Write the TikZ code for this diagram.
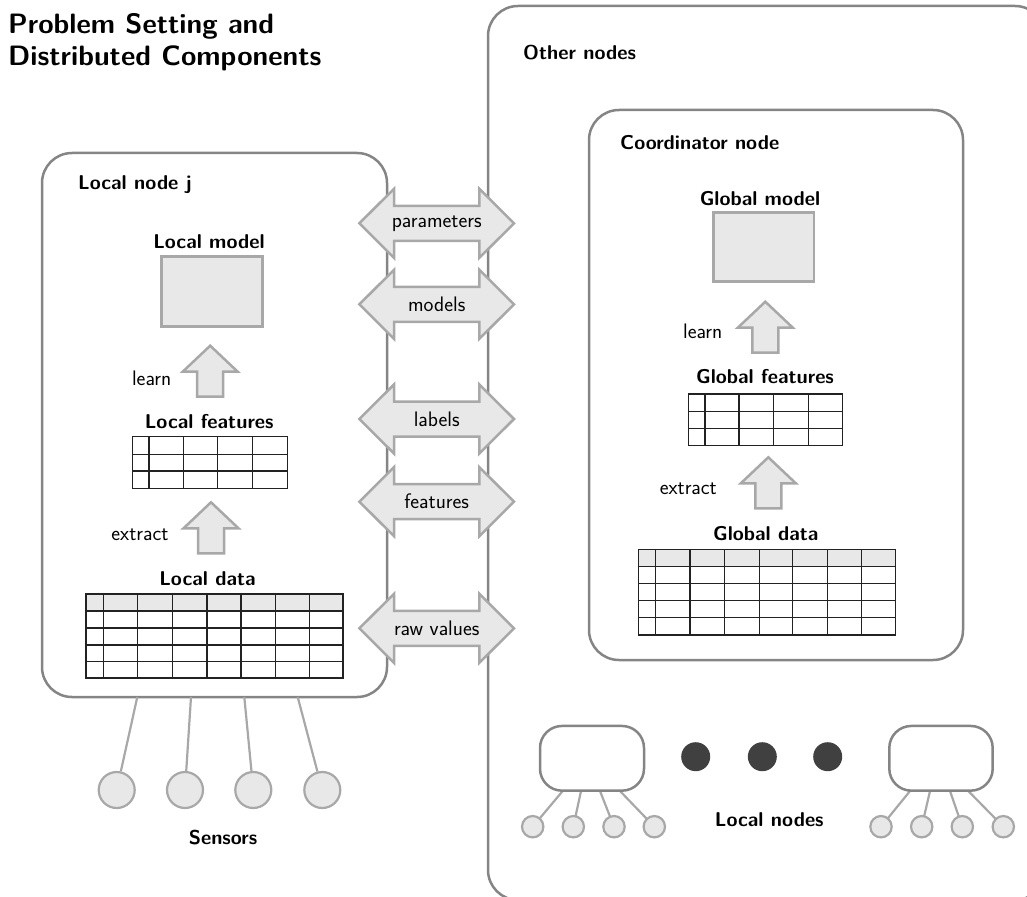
\documentclass[tikz,border=0pt]{standalone}
\usepackage{fontspec}
\usetikzlibrary{calc}
\definecolor{boxgray}{HTML}{858585}
\definecolor{lightfill}{HTML}{E8E8E8}
\definecolor{lightline}{HTML}{A8A8A8}
\definecolor{dotcol}{HTML}{404040}
\definecolor{gridline}{HTML}{222222}
\tikzset{
  region/.style={draw=boxgray, line width=2.5pt, rounded corners=30pt},
  smallregion/.style={draw=boxgray, line width=2.5pt, rounded corners=20pt},
  lbl/.style={font=\sffamily\bfseries\fontsize{20}{24}\selectfont, inner sep=0pt},
  txt/.style={font=\sffamily\fontsize{21}{24}\selectfont, inner sep=0pt},
  modelbox/.style={draw=lightline, fill=lightfill, line width=2.5pt},
  blockarrow/.style={draw=lightline, fill=lightfill, line width=2.5pt, line join=miter},
  gridl/.style={draw=gridline, line width=1.2pt},
  sensor/.style={circle, draw=lightline, fill=lightfill, line width=2.2pt, inner sep=0pt},
  wire/.style={draw=lightline, line width=2.2pt},
  dot/.style={circle, fill=dotcol, inner sep=0pt, minimum size=29pt},
  uparrow/.pic={
    \path[blockarrow] (-13,0) -- (-13,-25) -- (-27.5,-25) -- (0,-51) -- (27.5,-25) -- (13,-25) -- (13,0) -- cycle;
  },
  dblarrow/.pic={
    \path[blockarrow] (-77.3,0) -- (-42.7,-34.5) -- (-42.7,-17.5) -- (42.7,-17.5) -- (42.7,-34.5) -- (77.3,0)
      -- (42.7,34.5) -- (42.7,17.5) -- (-42.7,17.5) -- (-42.7,34.5) -- cycle;
    \node[txt] (-t) at (0,0) {#1};
  }
}
\begin{document}
\begin{tikzpicture}[x=1pt,y=-1pt]
\useasboundingbox (0,0) rectangle (1027,896);
\clip (0,0) rectangle (1027,896);

% title
\node[lbl, anchor=north west, align=left, font=\sffamily\bfseries\fontsize{28}{32}\selectfont] (title) at (8,13)
  {Problem Setting and\\Distributed Components};

% big regions
\path[region] (488,6) rectangle (1045,900);
\node[lbl, anchor=west] (other) at (523,52.5) {Other nodes};
\path[region] (42,153) rectangle (387,697);
\node[lbl, anchor=west] (localj) at (78,185) {Local node j};
\path[region] (589,110) rectangle (963,660);
\node[lbl, anchor=west] (coord) at (620,143) {Coordinator node};

% ---------- local node ----------
\node[lbl] (lmodeltxt) at (209,242) {Local model};
\node[modelbox, minimum width=100.6pt, minimum height=70pt] (lmodel) at (212,291.7) {};
\pic at (210.2,396.7) {uparrow};
\node[txt] (llearn) at (151.7,378) {learn};
\node[lbl] (lfeattxt) at (209.2,421.7) {Local features};
\node[gridl, minimum width=155pt, minimum height=51.6pt, inner sep=0pt] (lfeat) at (209.8,462.5) {};
\foreach \x in {149,183.3,217.7,252.7} \draw[gridl] (\x,436.7) -- (\x,488.3);
\foreach \y in {454.3,471} \draw[gridl] (132.3,\y) -- (287.3,\y);
\pic at (211,553.3) {uparrow};
\node[txt] (lextract) at (140,535) {extract};
\node[lbl] (ldatatxt) at (207.5,578.3) {Local data};
\fill[lightfill] (86,594) rectangle (343,611);
\node[gridl, minimum width=257pt, minimum height=84pt, inner sep=0pt] (ldata) at (214.5,636) {};
\foreach \x in {103.3,137.7,172.3,207,241,275.7,309.3} \draw[gridl] (\x,594) -- (\x,678);
\foreach \y in {611,628,645,661.7} \draw[gridl] (86,\y) -- (343,\y);

% sensors
\foreach \i/\sx/\cx in {1/137.3/116.7, 2/191/185, 3/244.3/253.3, 4/297.7/322.3}{
  \node[sensor, minimum size=36pt] (s\i) at (\cx,790) {};
  \draw[wire] (\sx,697) -- (s\i);
}
\node[lbl] (sensors) at (223,838) {Sensors};

% ---------- coordinator ----------
\node[lbl] (gmodeltxt) at (760,198.3) {Global model};
\node[modelbox, minimum width=100.7pt, minimum height=69.4pt] (gmodel) at (763.7,247) {};
\pic at (765.3,352.7) {uparrow};
\node[txt] (glearn) at (702.7,331.7) {learn};
\node[lbl] (gfeattxt) at (765,377) {Global features};
\node[gridl, minimum width=154.4pt, minimum height=51.7pt, inner sep=0pt] (gfeat) at (765.5,419.9) {};
\foreach \x in {705,739,773.7,808.3} \draw[gridl] (\x,394) -- (\x,445.7);
\foreach \y in {411.7,428.3} \draw[gridl] (688.3,\y) -- (842.7,\y);
\pic at (768.3,508.3) {uparrow};
\node[txt] (gextract) at (688.3,488.3) {extract};
\node[lbl] (gdatatxt) at (765.8,534) {Global data};
\fill[lightfill] (638.3,549.3) rectangle (895.3,566.7);
\node[gridl, minimum width=257pt, minimum height=85.7pt, inner sep=0pt] (gdata) at (766.8,592.2) {};
\foreach \x in {655.7,690,724.3,759.3,792.7,827.3,861.7} \draw[gridl] (\x,549.3) -- (\x,635);
\foreach \y in {566.7,583.3,600.7,617.7} \draw[gridl] (638.3,\y) -- (895.3,\y);

% ---------- exchange arrows ----------
\pic (par) at (436.7,223.3) {dblarrow=parameters};
\pic (mod) at (436.7,304.3) {dblarrow=models};
\pic (lab) at (436.7,419) {dblarrow=labels};
\pic (fea) at (436.7,501.7) {dblarrow=features};
\pic (raw) at (436.7,628.3) {dblarrow=raw values};

% ---------- other local nodes ----------
\foreach \i/\sx/\cx in {1/562.7/532.7, 2/581/573.3, 3/600/614, 4/620/654.3}{
  \draw[wire] (\sx,791) -- (\cx,826.7);
  \node[sensor, minimum size=21.4pt] (a\i) at (\cx,826.7) {};
}
\foreach \i/\sx/\cx in {1/910/881, 2/930/921.7, 3/950/962.3, 4/968.3/1003.3}{
  \draw[wire] (\sx,791) -- (\cx,826.7);
  \node[sensor, minimum size=21.4pt] (b\i) at (\cx,826.7) {};
}
\node[smallregion, fill=white, minimum width=104pt, minimum height=64.7pt, inner sep=0pt, rounded corners=22pt] (ln1) at (592,758.3) {};
\node[smallregion, fill=white, minimum width=103.4pt, minimum height=64.7pt, inner sep=0pt, rounded corners=22pt] (ln2) at (941,758.3) {};
\node[dot] (d1) at (695.7,756.7) {};
\node[dot] (d2) at (762.3,756.7) {};
\node[dot] (d3) at (827.7,756.7) {};
\node[lbl] (lnodes) at (769.3,820) {Local nodes};
\end{tikzpicture}
\end{document}
